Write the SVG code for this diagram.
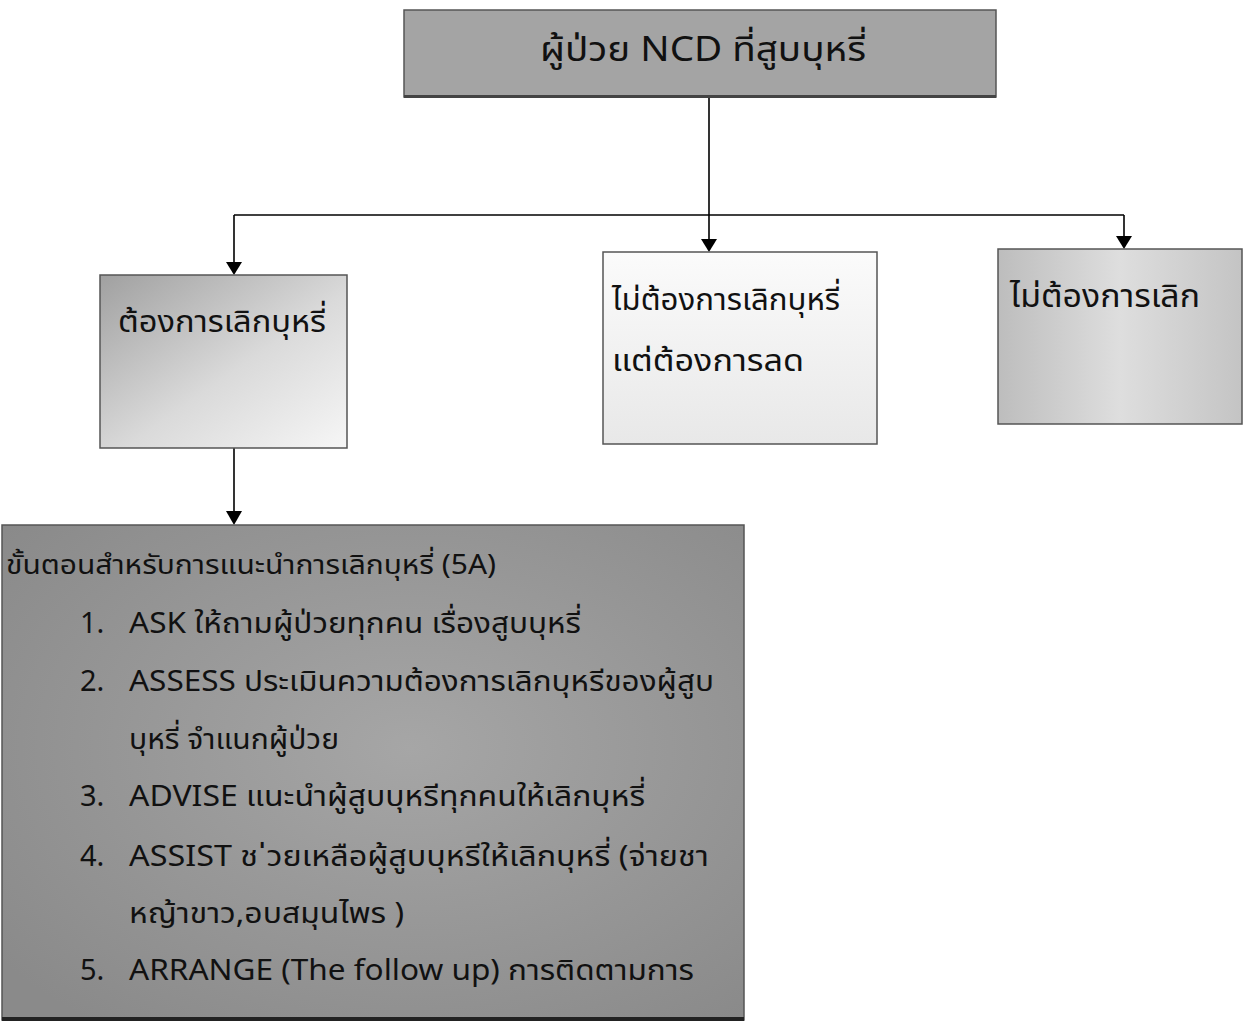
<svg xmlns="http://www.w3.org/2000/svg" width="1246" height="1022" viewBox="0 0 1246 1022">
<defs>
<linearGradient id="gLeft" x1="0" y1="0" x2="1" y2="1">
<stop offset="0" stop-color="#a0a0a0"/>
<stop offset="0.55" stop-color="#dadada"/>
<stop offset="1" stop-color="#f6f6f6"/>
</linearGradient>
<linearGradient id="gRight" x1="0" y1="0" x2="1" y2="0">
<stop offset="0" stop-color="#bdbdbd"/>
<stop offset="0.5" stop-color="#dedede"/>
<stop offset="1" stop-color="#c4c4c4"/>
</linearGradient>
<linearGradient id="gMid" x1="0" y1="0" x2="0" y2="1">
<stop offset="0" stop-color="#fbfbfb"/>
<stop offset="1" stop-color="#e8e8e8"/>
</linearGradient>
<radialGradient id="gBig" cx="0.55" cy="0.45" r="0.7">
<stop offset="0" stop-color="#a6a6a6"/>
<stop offset="1" stop-color="#8a8a8a"/>
</radialGradient>
</defs>
<style>
.t{font-family:"Noto Sans Thai","Noto Sans","DejaVu Sans",sans-serif;fill:#111}
.box{stroke:#555;stroke-width:1.5}
.c{stroke:#000;stroke-width:1.6;fill:none}
.ah{fill:#000}
</style>
<rect width="1246" height="1022" fill="#fff"/>
<g id="connectors">
<line class="c" x1="709" y1="97" x2="709" y2="215"/>
<line class="c" x1="234" y1="215" x2="1124" y2="215"/>
<line class="c" x1="234" y1="215" x2="234" y2="263"/>
<polygon class="ah" points="226,262 242,262 234,275"/>
<line class="c" x1="709" y1="215" x2="709" y2="240"/>
<polygon class="ah" points="701,239 717,239 709,252"/>
<line class="c" x1="1124" y1="215" x2="1124" y2="237"/>
<polygon class="ah" points="1116,236 1132,236 1124,249"/>
<line class="c" x1="234" y1="448" x2="234" y2="512"/>
<polygon class="ah" points="226,511 242,511 234,525"/>
</g>
<g id="n-top">
<rect class="box" x="404" y="10" width="592" height="87" fill="#a4a4a4"/>
<rect x="404" y="95" width="592" height="3" fill="#444"/>
<text class="t" x="540" y="61" font-size="34" textLength="326" lengthAdjust="spacingAndGlyphs">ผู้ป่วย NCD ที่สูบบุหรี่</text>
</g>
<g id="n-want">
<rect class="box" x="100" y="275" width="247" height="173" fill="url(#gLeft)"/>
<text class="t" x="118" y="332" font-size="31" textLength="208" lengthAdjust="spacingAndGlyphs">ต้องการเลิกบุหรี่</text>
</g>
<g id="n-reduce">
<rect class="box" x="603" y="252" width="274" height="192" fill="url(#gMid)"/>
<text class="t" x="612" y="310" font-size="31" textLength="228" lengthAdjust="spacingAndGlyphs">ไม่ต้องการเลิกบุหรี่</text>
<text class="t" x="612" y="371" font-size="31" textLength="192" lengthAdjust="spacingAndGlyphs">แต่ต้องการลด</text>
</g>
<g id="n-no">
<rect class="box" x="998" y="249" width="244" height="175" fill="url(#gRight)"/>
<text class="t" x="1010" y="307" font-size="32" textLength="190" lengthAdjust="spacingAndGlyphs">ไม่ต้องการเลิก</text>
</g>
<g id="n-5a">
<rect class="box" x="2" y="525" width="742" height="495" fill="url(#gBig)"/>
<rect x="2" y="1017" width="742" height="4" fill="#222"/>
<g class="t" font-size="29">
<text x="6" y="574" font-size="27" textLength="490" lengthAdjust="spacingAndGlyphs">ขั้นตอนสำหรับการแนะนำการเลิกบุหรี่ (5A)</text>
<text x="80" y="633">1.</text><text x="129" y="633" textLength="452" lengthAdjust="spacingAndGlyphs">ASK ให้ถามผู้ป่วยทุกคน เรื่องสูบบุหรี่</text>
<text x="80" y="691">2.</text><text x="129" y="691" textLength="585" lengthAdjust="spacingAndGlyphs">ASSESS ประเมินความต้องการเลิกบุหรีของผู้สูบ</text>
<text x="129" y="749" textLength="210" lengthAdjust="spacingAndGlyphs">บุหรี่ จำแนกผู้ป่วย</text>
<text x="80" y="806">3.</text><text x="129" y="806" textLength="516" lengthAdjust="spacingAndGlyphs">ADVISE แนะนำผู้สูบบุหรีทุกคนให้เลิกบุหรี่</text>
<text x="80" y="866">4.</text><text x="129" y="866" textLength="580" lengthAdjust="spacingAndGlyphs">ASSIST ช ่วยเหลือผู้สูบบุหรีให้เลิกบุหรี่ (จ่ายชา</text>
<text x="129" y="923" textLength="275" lengthAdjust="spacingAndGlyphs">หญ้าขาว,อบสมุนไพร )</text>
<text x="80" y="980">5.</text><text x="129" y="980" textLength="565" lengthAdjust="spacingAndGlyphs">ARRANGE (The follow up) การติดตามการ</text>
</g>
</g>
</svg>
